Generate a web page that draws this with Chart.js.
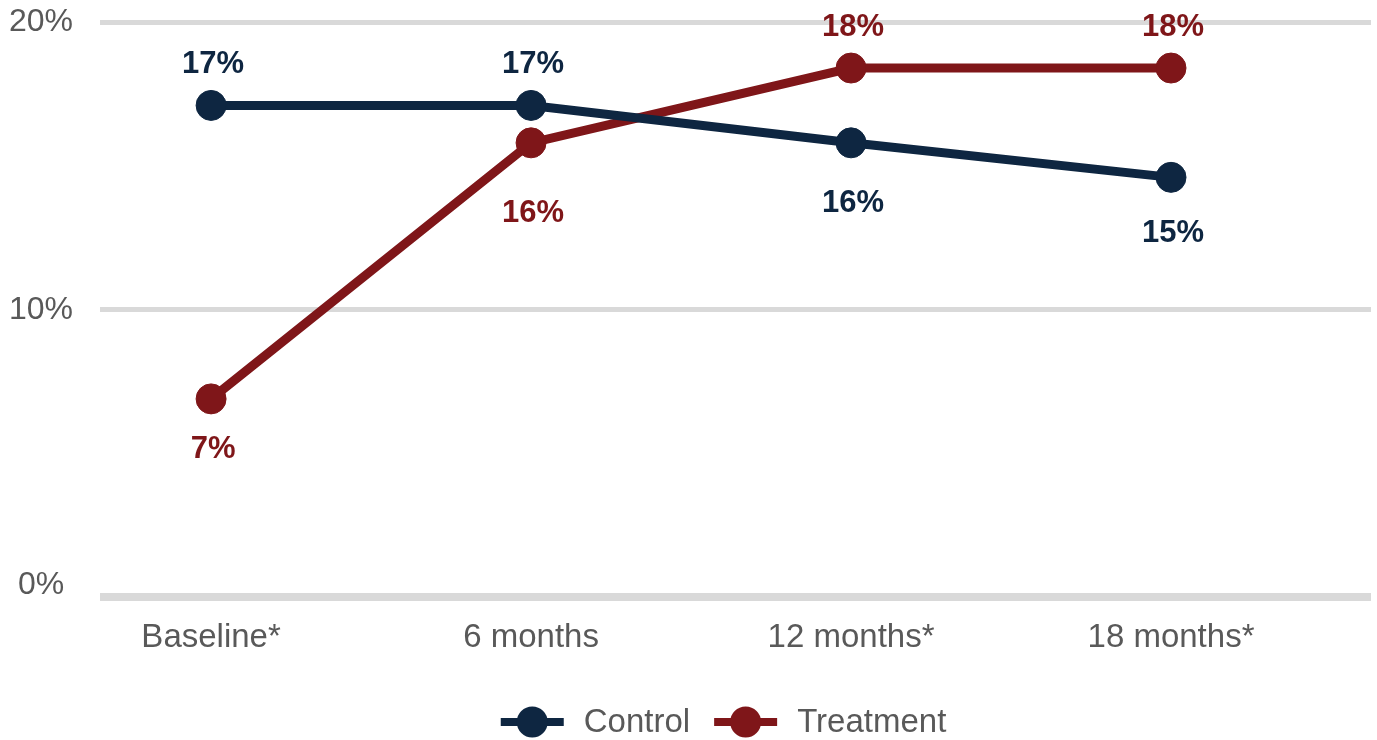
<!DOCTYPE html>
<html>
<head>
<meta charset="utf-8">
<script src="https://cdn.jsdelivr.net/npm/chart.js@4/dist/chart.umd.min.js"></script>
<style>
  html, body { margin: 0; padding: 0; background: #ffffff; }
  #wrap { width: 1377px; height: 740px; }
</style>
</head>
<body>
<div id="wrap"><canvas id="chart" width="1377" height="740"></canvas></div>
<script>
// Survey time points
const categories = ['Baseline*', '6 months', '12 months*', '18 months*'];

// Share of respondents (%) per group
const controlValues = [17.1, 17.1, 15.8, 14.6];
const treatmentValues = [6.9, 15.8, 18.4, 18.4];

// Y axis tick values (%)
const yTicks = [0, 10, 20];

const NAVY = '#0E2641';
const RED = '#7F1619';
const GREY_TEXT = '#595959';
const GRID = '#D9D9D9';
const FONT = '"Liberation Sans", Arial, sans-serif';

// Value labels next to each point; offset is the vertical distance from the marker centre
const pointLabels = {
  id: 'pointLabels',
  afterDatasetsDraw(chart) {
    const ctx = chart.ctx;
    ctx.save();
    ctx.font = 'bold 31px ' + FONT;
    ctx.textAlign = 'center';
    ctx.textBaseline = 'middle';
    chart.data.datasets.forEach((ds, di) => {
      const meta = chart.getDatasetMeta(di);
      ctx.fillStyle = ds.borderColor;
      meta.data.forEach((pt, i) => {
        const v = ds.data[i].y;
        ctx.fillText(Math.round(v) + '%', pt.x + 2, pt.y + ds.labelOffsets[i]);
      });
    });
    ctx.restore();
  }
};

// Bottom legend: line-with-marker swatch followed by the series name
const lineLegend = {
  id: 'lineLegend',
  afterDraw(chart) {
    const ctx = chart.ctx;
    const area = chart.chartArea;
    const swatch = 63, gap = 20, itemGap = 24, cy = 722;
    ctx.save();
    ctx.font = '33px ' + FONT;
    const items = chart.data.datasets.map(ds => ({
      text: ds.label, color: ds.borderColor, w: ctx.measureText(ds.label).width
    }));
    const total = items.reduce((s, it) => s + swatch + gap + it.w, 0) + itemGap * (items.length - 1);
    let x = (area.left + area.right) / 2 - 12 - total / 2;
    ctx.textBaseline = 'middle';
    ctx.textAlign = 'left';
    items.forEach(it => {
      ctx.strokeStyle = it.color;
      ctx.lineWidth = 8;
      ctx.beginPath();
      ctx.moveTo(x, cy);
      ctx.lineTo(x + swatch, cy);
      ctx.stroke();
      ctx.fillStyle = it.color;
      ctx.beginPath();
      ctx.arc(x + swatch / 2, cy, 15.5, 0, Math.PI * 2);
      ctx.fill();
      ctx.fillStyle = GREY_TEXT;
      ctx.fillText(it.text, x + swatch + gap, cy + 1);
      x += swatch + gap + it.w + itemGap;
    });
    ctx.restore();
  }
};

const toPoints = vals => vals.map((v, i) => ({ x: i, y: v }));

new Chart(document.getElementById('chart'), {
  type: 'line',
  data: {
    datasets: [
      {
        label: 'Control',
        data: toPoints(controlValues),
        borderColor: NAVY,
        backgroundColor: NAVY,
        borderWidth: 9,
        pointRadius: 15,
        pointBorderWidth: 1,
        pointBorderColor: NAVY,
        pointBackgroundColor: NAVY,
        labelOffsets: [-41, -41, 61, 56]
      },
      {
        label: 'Treatment',
        data: toPoints(treatmentValues),
        borderColor: RED,
        backgroundColor: RED,
        borderWidth: 9,
        pointRadius: 15,
        pointBorderWidth: 1,
        pointBorderColor: RED,
        pointBackgroundColor: RED,
        labelOffsets: [51, 71, -41, -41]
      }
    ]
  },
  options: {
    responsive: false,
    animation: false,
    layout: { autoPadding: false, padding: { left: 9, right: 6, top: 22, bottom: 82 } },
    plugins: {
      legend: { display: false },
      tooltip: { enabled: false }
    },
    scales: {
      x: {
        type: 'linear',
        min: -0.347,
        max: 3.625,
        afterBuildTicks: scale => { scale.ticks = categories.map((c, i) => ({ value: i })); },
        afterFit: scale => {
          scale.paddingLeft = 0;
          scale.paddingRight = 0;
          scale.height -= scale.options.ticks.padding;
        },
        grid: { display: false, drawTicks: false },
        border: { display: false },
        ticks: {
          autoSkip: false,
          maxRotation: 0,
          padding: 21,
          color: GREY_TEXT,
          font: { family: FONT, size: 33 },
          callback: v => categories[v]
        }
      },
      y: {
        min: 0,
        max: 20,
        afterBuildTicks: scale => { scale.ticks = yTicks.map(v => ({ value: v })); },
        afterFit: scale => {
          scale.paddingTop = 0;
          scale.paddingBottom = 0;
          scale.width -= scale.options.ticks.padding;
        },
        grid: {
          color: GRID,
          drawTicks: false,
          lineWidth: c => (c.tick && c.tick.value === 0 ? 8 : 5)
        },
        border: { display: false },
        ticks: {
          padding: 27,
          crossAlign: 'center',
          color: GREY_TEXT,
          // the 0% label sits a little above its grid line
          font: c => ({
            family: FONT,
            size: 32,
            lineHeight: c.tick && c.tick.value === 0 ? '24px' : 1.2
          }),
          callback: v => (v === 0 ? ['0%', ''] : v + '%')
        }
      }
    }
  },
  plugins: [pointLabels, lineLegend]
});
</script>
</body>
</html>
